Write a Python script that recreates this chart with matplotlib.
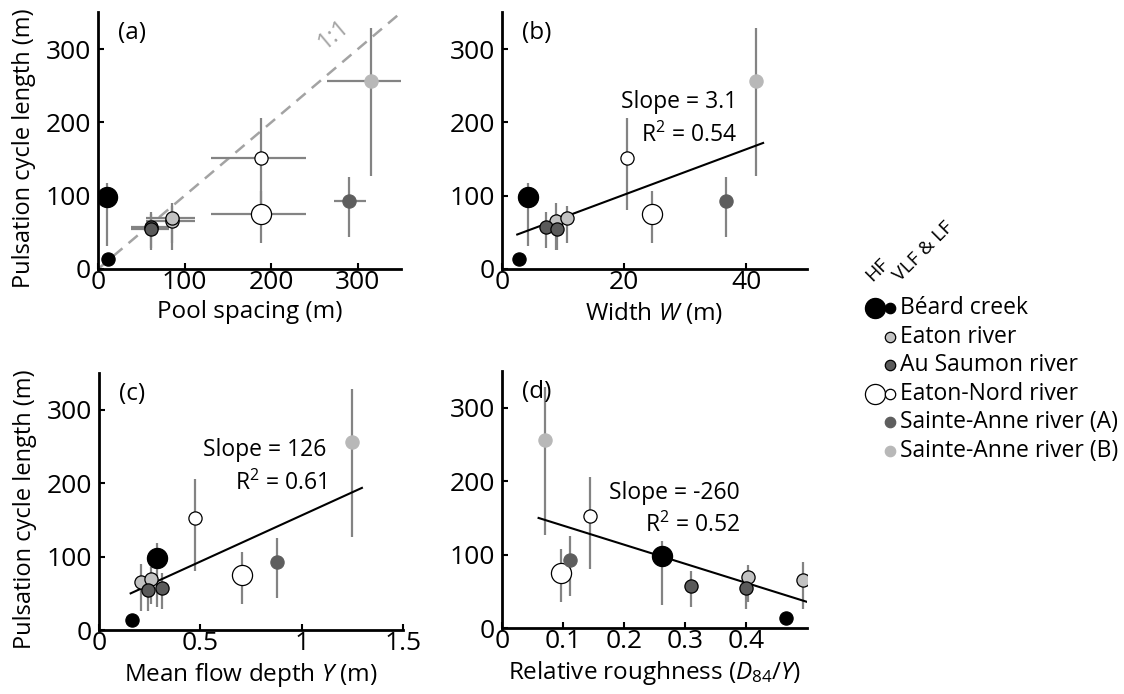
# -*- coding: utf-8 -*-
''' Pulsation cycle length against pool spacing, width, depth and roughness '''

import numpy as np
import matplotlib
matplotlib.use('Agg')
import matplotlib.pyplot as plt
from matplotlib.lines import Line2D

plt.rcParams['font.family'] = ['Open Sans', 'DejaVu Sans']
plt.rcParams['mathtext.fontset'] = 'custom'
plt.rcParams['mathtext.rm'] = 'Open Sans'
plt.rcParams['mathtext.it'] = 'Open Sans:italic'

# one entry per measured point
site = ['beard', 'beard', 'eaton', 'eaton', 'saumon', 'saumon',
        'nord', 'nord', 'steA', 'steB']
band = ['HF', 'VLF', 'VLF', 'VLF', 'VLF', 'VLF', 'VLF', 'HF', 'VLF', 'VLF']

# pulsation cycle length (m) with error range
pulse_len = [98, 13, 65, 70, 57, 55, 152, 75, 93, 256]
pulse_lo = [32, np.nan, 26, 35, 28, 26, 80, 35, 44, 127]
pulse_hi = [118, np.nan, 90, 86, 78, 75, 206, 107, 125, 329]

# (a) pool spacing (m) with range
pool = [10, 11, 85, 85, 61, 61, 188, 188, 290, 315]
pool_lo = [np.nan, np.nan, 56, 56, 38, 38, 131, 131, 273, 265]
pool_hi = [np.nan, np.nan, 112, 112, 82, 82, 240, 240, 309, 355]

# (b) width W (m)
width = [4.3, 2.8, 8.9, 10.6, 7.2, 9.0, 20.5, 24.6, 36.7, 41.7]
# (c) mean flow depth Y (m)
depth = [0.285, 0.163, 0.205, 0.255, 0.31, 0.24, 0.473, 0.705, 0.88, 1.247]
# (d) relative roughness D84/Y
rough = [0.262, 0.465, 0.493, 0.403, 0.31, 0.40, 0.145, 0.097, 0.112, 0.07]

# regressions: slope, intercept, x range
fit_b = (3.1, 39.3, [2.5, 42.8])
fit_c = (126, 30.3, [0.156, 1.297])
fit_d = (-260, 165.6, [0.06, 0.50])

site_names = ['Béard creek', 'Eaton river', 'Au Saumon river', 'Eaton-Nord river',
              'Sainte-Anne river (A)', 'Sainte-Anne river (B)']
site_keys = ['beard', 'eaton', 'saumon', 'nord', 'steA', 'steB']

face = {'beard': 'black', 'eaton': '#c2c2c2', 'saumon': '#5a5a5a',
        'nord': 'white', 'steA': '#5e5e5e', 'steB': '#b8b8b8'}
edge = {'beard': 'black', 'eaton': 'black', 'saumon': 'black',
        'nord': 'black', 'steA': '#5e5e5e', 'steB': '#b8b8b8'}
msize = {'HF': 14.5, 'VLF': 9.5}
err_col = '#838383'


def draw_points(ax, xs, xlo=None, xhi=None):
    ''' error bars, then markers '''
    for i, x in enumerate(xs):
        y = pulse_len[i]
        if not np.isnan(pulse_lo[i]):
            ax.plot([x, x], [pulse_lo[i], pulse_hi[i]], color=err_col,
                    lw=1.6, zorder=2, solid_capstyle='butt')
        if xlo is not None and not np.isnan(xlo[i]):
            ax.plot([xlo[i], xhi[i]], [y, y], color=err_col, lw=1.6,
                    zorder=2, solid_capstyle='butt', clip_on=True)
    for i, x in enumerate(xs):
        s = site[i]
        ax.plot(x, pulse_len[i], 'o', ms=msize[band[i]], mfc=face[s],
                mec=edge[s], mew=0.9, zorder=4)


def style_axes(ax, xlim, xticks, xticklabels, xlabel, letter, ylabel=None):
    ax.set_xlim(xlim)
    ax.set_ylim(0, 350)
    ax.set_xticks(xticks)
    ax.set_xticklabels(xticklabels)
    ax.set_yticks([0, 100, 200, 300])
    for sp in ['top', 'right']:
        ax.spines[sp].set_visible(False)
    for sp in ['left', 'bottom']:
        ax.spines[sp].set_linewidth(2)
    ax.tick_params(direction='in', length=4, width=1.5, labelsize=19)
    ax.tick_params(axis='x', pad=1)
    ax.tick_params(axis='y', pad=5)
    ax.set_xlabel(xlabel, fontsize=17.5, labelpad=3)
    if ylabel:
        ax.set_ylabel(ylabel, fontsize=17)
        ax.yaxis.set_label_coords(-0.205, 0.47)
    ax.text(0.065, 0.92, letter, transform=ax.transAxes, fontsize=17.5,
            va='center', ha='left')


def draw_fit(ax, fit, label_x, label_y1, label_y2, slope_txt, r2_txt):
    slope, inter, xr = fit
    xr = np.array(xr)
    ax.plot(xr, slope * xr + inter, color='black', lw=1.5, zorder=3)
    ax.text(label_x, label_y1, slope_txt, fontsize=16.5, ha='right', va='center')
    ax.text(label_x, label_y2, r2_txt, fontsize=16.5, ha='right', va='center')


fig = plt.figure(figsize=(11.24, 6.94), dpi=100)

ax_a = fig.add_axes([0.0872, 0.6124, 0.2696, 0.3696])
ax_b = fig.add_axes([0.4466, 0.6124, 0.2714, 0.3696])
ax_c = fig.add_axes([0.0881, 0.0922, 0.2705, 0.3700])
ax_d = fig.add_axes([0.4466, 0.0951, 0.2714, 0.3700])

# (a)
ax_a.plot([0, 350], [0, 350], color='#a3a3a3', lw=1.8,
          linestyle=(0, (4.8, 3.2)), zorder=1)
draw_points(ax_a, pool, pool_lo, pool_hi)
ax_a.text(272, 320, '1:1', color='#a3a3a3', fontsize=17, rotation=40,
          ha='center', va='center')
style_axes(ax_a, (0, 350), [0, 100, 200, 300], ['0', '100', '200', '300'],
           'Pool spacing (m)', '(a)', 'Pulsation cycle length (m)')

# (b)
draw_points(ax_b, width)
draw_fit(ax_b, fit_b, 38.5, 228, 182, 'Slope = 3.1', 'R$^2$ = 0.54')
style_axes(ax_b, (0, 50), [0, 20, 40], ['0', '20', '40'],
           'Width $W$ (m)', '(b)')

# (c)
draw_points(ax_c, depth)
draw_fit(ax_c, fit_c, 1.12, 245, 200, 'Slope = 126', 'R$^2$ = 0.61')
style_axes(ax_c, (0, 1.5), [0, 0.5, 1, 1.5], ['0', '0.5', '1', '1.5'],
           'Mean flow depth $Y$ (m)', '(c)', 'Pulsation cycle length (m)')

# (d)
draw_points(ax_d, rough)
draw_fit(ax_d, fit_d, 0.39, 184, 140, 'Slope = -260', 'R$^2$ = 0.52')
style_axes(ax_d, (0, 0.5), [0, 0.1, 0.2, 0.3, 0.4],
           ['0', '0.1', '0.2', '0.3', '0.4'],
           'Relative roughness ($D_{84}$/$Y$)', '(d)')

# legend built by hand
W, H = 1124.0, 694.0
row_y = [308, 337, 365, 394, 422, 451]
has_hf = ['beard', 'nord']
for k, name, yy in zip(site_keys, site_names, row_y):
    fy = 1 - yy / H
    if k in has_hf:
        fig.add_artist(Line2D([875 / W], [fy], transform=fig.transFigure,
                              marker='o', ms=14.5, mfc=face[k], mec=edge[k],
                              mew=0.9, ls='none'))
    fig.add_artist(Line2D([890 / W], [fy], transform=fig.transFigure,
                          marker='o', ms=7.5, mfc=face[k], mec=edge[k],
                          mew=0.9, ls='none'))
    fig.text(900 / W, fy, name, fontsize=16.5, va='center', ha='left')

fig.text(872 / W, 1 - 282 / H, 'HF', fontsize=14, rotation=45,
         rotation_mode='anchor', ha='left', va='baseline')
fig.text(900 / W, 1 - 282 / H, 'VLF & LF', fontsize=14, rotation=45,
         rotation_mode='anchor', ha='left', va='baseline')

fig.savefig('out.png', dpi=100)
